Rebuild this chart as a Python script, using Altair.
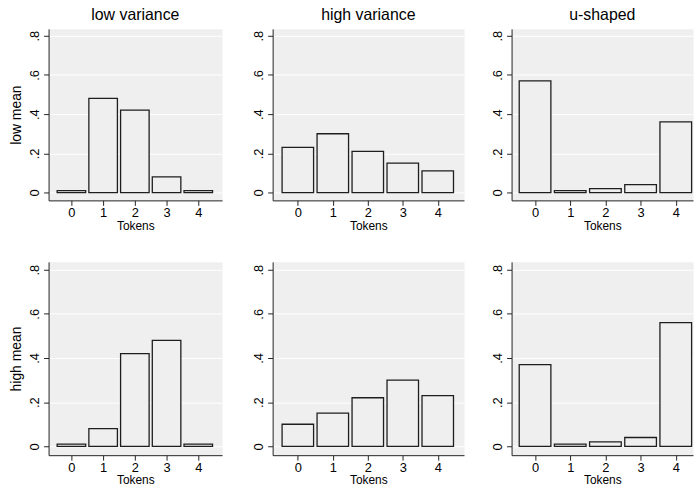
import altair as alt
import pandas as pd

tokens = [0, 1, 2, 3, 4]
col_titles = ["low variance", "high variance", "u-shaped"]
row_titles = ["low mean", "high mean"]

low_mean_low_var = [0.01, 0.48, 0.42, 0.08, 0.01]
low_mean_high_var = [0.23, 0.30, 0.21, 0.15, 0.11]
low_mean_u_shaped = [0.57, 0.01, 0.02, 0.04, 0.36]
high_mean_low_var = [0.01, 0.08, 0.42, 0.48, 0.01]
high_mean_high_var = [0.10, 0.15, 0.22, 0.30, 0.23]
high_mean_u_shaped = [0.37, 0.01, 0.02, 0.04, 0.56]

y_ticks = [0, 0.2, 0.4, 0.6, 0.8]

series = {
    ("low mean", "low variance"): low_mean_low_var,
    ("low mean", "high variance"): low_mean_high_var,
    ("low mean", "u-shaped"): low_mean_u_shaped,
    ("high mean", "low variance"): high_mean_low_var,
    ("high mean", "high variance"): high_mean_high_var,
    ("high mean", "u-shaped"): high_mean_u_shaped,
}

rows = []
for (r, c), vals in series.items():
    for t, v in zip(tokens, vals):
        rows.append({"row": r, "col": c, "token": t, "share": v})
df = pd.DataFrame(rows)

FONT = "Liberation Sans"
BG = "#efefef"
widths = [175, 193, 183]
heights = [173, 195]
xdomains = [[-0.72, 4.75], [-0.72, 4.75], [-0.667, 4.49]]
yextents = [20, 23, 20]


def panel(ri, ci):
    r = row_titles[ri]
    c = col_titles[ci]
    data = df[(df["row"] == r) & (df["col"] == c)]
    yaxis = alt.Axis(
        values=y_ticks,
        labelExpr="datum.value == 0 ? '0' : replace(format(datum.value, '.1f'), '0.', '.')",
        labelAngle=270,
        labelAlign="center",
        labelBaseline="bottom",
        labelFontSize=13,
        labelPadding=2,
        tickSize=5,
        grid=True,
        gridColor="white",
        gridWidth=1,
        domainColor="#222222",
        tickColor="#222222",
        minExtent=yextents[ci],
        maxExtent=yextents[ci],
        title=r if ci == 0 else "",
        titleFontSize=14,
        titleFontWeight="normal",
        titlePadding=5,
    )
    xaxis = alt.Axis(
        values=tokens,
        format="d",
        labelAngle=0,
        labelFontSize=13,
        labelPadding=1,
        tickSize=5,
        grid=False,
        domainColor="#222222",
        tickColor="#222222",
        title="Tokens",
        titleFontSize=12,
        titleFontWeight="normal",
        titlePadding=1,
    )
    ch = (
        alt.Chart(data)
        .transform_calculate(lo="datum.token - 0.45", hi="datum.token + 0.45")
        .mark_rect(fill=BG, stroke="#1e1e1e", strokeWidth=1.3)
        .encode(
            x=alt.X("lo:Q", scale=alt.Scale(domain=xdomains[ci], nice=False, zero=False), axis=xaxis),
            x2="hi:Q",
            y=alt.Y("share:Q", scale=alt.Scale(domain=[-0.04, 0.835], nice=False, zero=False), axis=yaxis),
            y2=alt.datum(0),
        )
        .properties(width=widths[ci], height=heights[ri])
    )
    if ri == 0:
        ch = ch.properties(title=alt.TitleParams(c, fontSize=16, fontWeight="normal", font=FONT, offset=6, color="black"))
    return ch


top = alt.hconcat(*[panel(0, i) for i in range(3)], spacing=26)
bottom = alt.hconcat(*[panel(1, i) for i in range(3)], spacing=26)
chart = (
    alt.vconcat(top, bottom, spacing=29)
    .properties(padding={"left": 9, "top": 4, "right": 0, "bottom": 0})
    .configure(font=FONT)
    .configure_view(fill=BG, stroke="transparent")
    .configure_axis(labelColor="black", titleColor="black", labelFont=FONT, titleFont=FONT)
)

chart.save("out.html", embed_options={"renderer": "svg", "actions": False})
